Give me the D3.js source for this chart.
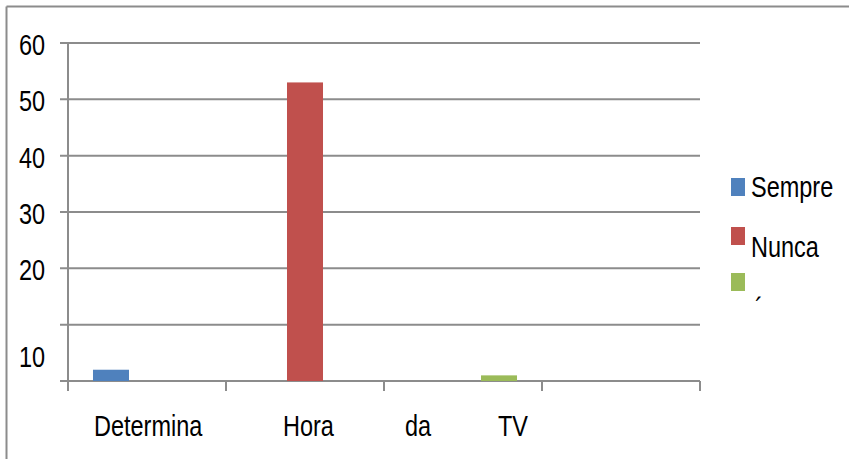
<!DOCTYPE html>
<html>
<head>
<meta charset="utf-8">
<script src="https://cdn.jsdelivr.net/npm/d3@7"></script>
<style>
  html, body { margin: 0; padding: 0; background: #fff; }
  svg { display: block; }
  text { font-family: "Liberation Sans Narrow", "Liberation Sans", sans-serif; fill: #000; }
</style>
</head>
<body>
<svg id="chart" width="849" height="459"></svg>
<script>
// ---- data ----
const categories = ["Determina", "Hora", "da", "TV"];
const seriesNames = ["Sempre", "Nunca", "\u00B4"];
const sempre = [2, 0, 0, 0];
const nunca = [0, 53, 0, 0];
const third = [0, 0, 1, 0];
const yTickValues = [0, 10, 20, 30, 40, 50, 60];
const yTickLabels = ["", "10", "20", "30", "40", "50", "60"];

const seriesValues = [sempre, nunca, third];
const colors = ["#4F81BD", "#C0504D", "#9BBB59"];

// ---- layout ----
const plot = { left: 68, right: 700, top: 43, bottom: 381 };
const fontSize = 29;
const squeeze = 0.81; // narrow, tall lettering like the original
const svg = d3.select("#chart");

function label(g, x, yPos, txt, anchor) {
  return g.append("text")
    .attr("transform", `translate(${x},${yPos}) scale(${squeeze},1)`)
    .attr("text-anchor", anchor || "start")
    .attr("font-size", fontSize)
    .text(txt);
}

// outer border (top and left only visible)
svg.append("line").attr("x1", 6.5).attr("x2", 849).attr("y1", 6.5).attr("y2", 6.5)
  .attr("stroke", "#8c8c8c").attr("stroke-width", 2);
svg.append("line").attr("x1", 6.5).attr("x2", 6.5).attr("y1", 6.5).attr("y2", 459)
  .attr("stroke", "#8c8c8c").attr("stroke-width", 2);

const y = d3.scaleLinear().domain([0, 60]).range([plot.bottom, plot.top]);
const x0 = d3.scaleBand().domain(categories).range([plot.left, plot.right]).padding(0);
const x1 = d3.scaleBand().domain(seriesNames).range([0, x0.bandwidth()])
  .paddingInner(0).paddingOuter(0.694);

// gridlines (extend left as tick marks)
svg.append("g").selectAll("line").data(yTickValues).join("line")
  .attr("x1", plot.left - 8).attr("x2", plot.right)
  .attr("y1", d => y(d)).attr("y2", d => y(d))
  .attr("stroke", "#8c8c8c").attr("stroke-width", 2);

// y axis line
svg.append("line").attr("x1", plot.left).attr("x2", plot.left)
  .attr("y1", plot.top).attr("y2", plot.bottom + 10)
  .attr("stroke", "#8c8c8c").attr("stroke-width", 2);

// x axis tick marks at category boundaries
const boundaries = categories.map(c => x0(c)).concat([x0(categories[categories.length - 1]) + x0.bandwidth()]);
svg.append("g").selectAll("line").data(boundaries).join("line")
  .attr("x1", d => d).attr("x2", d => d)
  .attr("y1", plot.bottom).attr("y2", plot.bottom + 10)
  .attr("stroke", "#8c8c8c").attr("stroke-width", 2);

// bars
seriesValues.forEach((vals, si) => {
  svg.append("g").selectAll("rect")
    .data(categories.map((c, i) => ({ c, v: vals[i] })).filter(d => d.v > 0))
    .join("rect")
    .attr("x", d => x0(d.c) + x1(seriesNames[si]))
    .attr("width", x1.bandwidth())
    .attr("y", d => y(d.v))
    .attr("height", d => y(0) - y(d.v))
    .attr("fill", colors[si]);
});

// y tick labels (the "10" label sits lower in the original)
const yLabelOffset = { 10: 30 };
const yl = svg.append("g");
yTickValues.forEach((d, i) => {
  label(yl, 45, y(d) + 12 + (yLabelOffset[d] || 0), yTickLabels[i], "end");
});

// category labels (spread as in the original)
const catLabelX = [94, 283, 405, 498];
const cl = svg.append("g");
categories.forEach((c, i) => label(cl, catLabelX[i], 436, c));

// legend
const legendSquares = [178, 227, 273];
const legendBaselines = [197, 257, 318];
const lg = svg.append("g");
seriesNames.forEach((name, i) => {
  lg.append("rect").attr("x", 731).attr("y", legendSquares[i])
    .attr("width", 14).attr("height", 18).attr("fill", colors[i]);
  label(lg, i === 2 ? 755 : 751, legendBaselines[i], name);
});
</script>
</body>
</html>
